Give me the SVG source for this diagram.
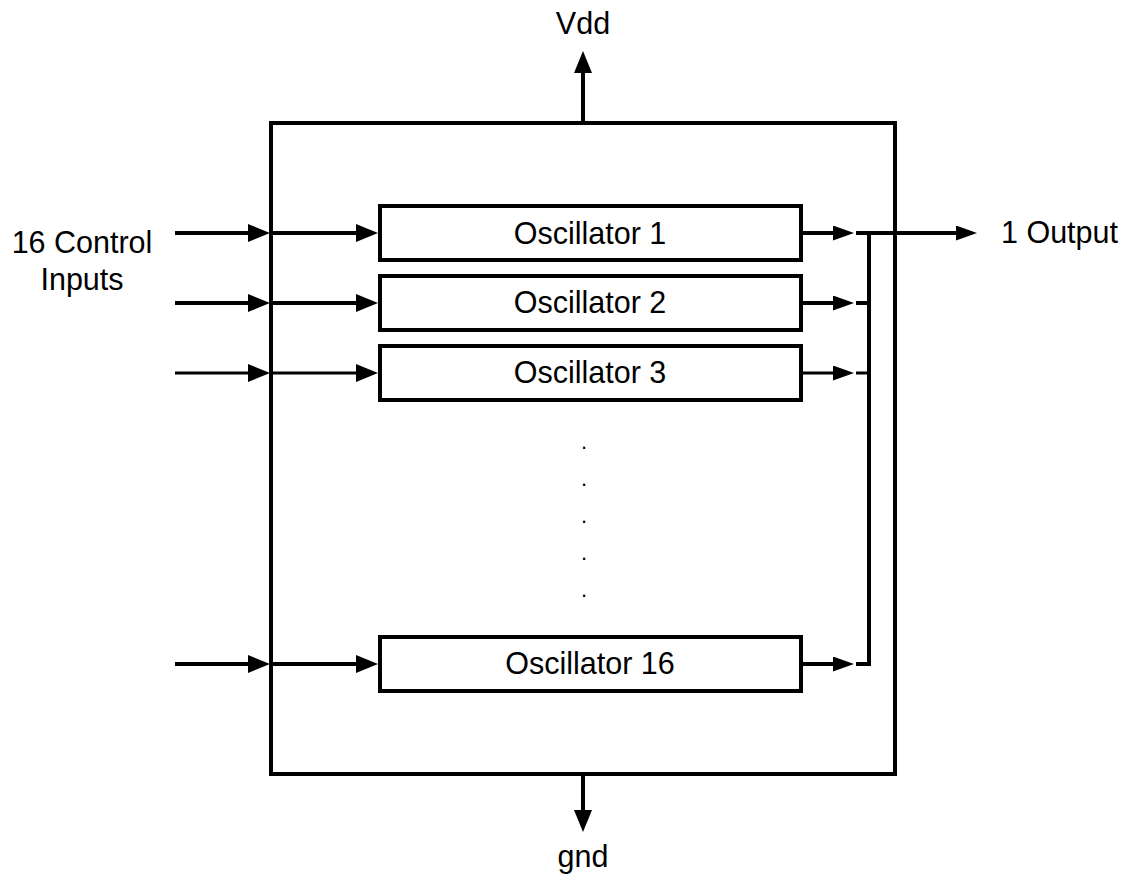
<svg xmlns="http://www.w3.org/2000/svg" width="1132" height="877" viewBox="0 0 1132 877">
  <style>
    .box { fill: #fff; stroke: #000; stroke-width: 4; }
    .wire { fill: none; stroke: #000; stroke-width: 4; }
    .thin { stroke-width: 3; }
    .lbl { font-family: "Liberation Sans", Arial, sans-serif; font-size: 30.5px; fill: #000; }
    .mid { text-anchor: middle; }
  </style>
  <defs>
    <marker id="ah" markerUnits="userSpaceOnUse" markerWidth="22" markerHeight="18" refX="1" refY="9" orient="auto" viewBox="0 0 22 18">
      <path d="M0,0 L22,9 L0,18 Z" fill="#000"/>
    </marker>
    <marker id="ahs" markerUnits="userSpaceOnUse" markerWidth="21" markerHeight="15" refX="1" refY="7.5" orient="auto" viewBox="0 0 21 15">
      <path d="M0,0 L21,7.5 L0,15 Z" fill="#000"/>
    </marker>
  </defs>

  <!-- chip outline -->
  <g id="chip">
    <rect class="box" x="271" y="123" width="624" height="651"/>
  </g>

  <!-- oscillator blocks -->
  <g id="osc1">
    <rect class="box" x="380" y="206" width="421" height="54"/>
    <text class="lbl mid" x="590" y="244">Oscillator 1</text>
  </g>
  <g id="osc2">
    <rect class="box" x="380" y="276" width="421" height="54"/>
    <text class="lbl mid" x="590" y="313">Oscillator 2</text>
  </g>
  <g id="osc3">
    <rect class="box" x="380" y="346" width="421" height="54"/>
    <text class="lbl mid" x="590" y="383">Oscillator 3</text>
  </g>
  <g id="osc16">
    <rect class="box" x="380" y="637" width="421" height="54"/>
    <text class="lbl mid" x="590" y="674">Oscillator 16</text>
  </g>

  <!-- ellipsis between blocks -->
  <g id="ellipsis" class="lbl mid" style="font-size:22px">
    <text x="584" y="449">.</text>
    <text x="584" y="486">.</text>
    <text x="584" y="523">.</text>
    <text x="584" y="560">.</text>
    <text x="584" y="597">.</text>
  </g>

  <!-- labels -->
  <g id="labels">
    <text class="lbl mid" x="583" y="34">Vdd</text>
    <text class="lbl mid" x="583" y="867">gnd</text>
    <text class="lbl mid" x="82" y="253">16 Control</text>
    <text class="lbl mid" x="82" y="290">Inputs</text>
    <text class="lbl" x="1001" y="243">1 Output</text>
  </g>

  <!-- connectors -->
  <g id="connectors">
    <!-- supply -->
    <path class="wire" d="M583,123 V72" marker-end="url(#ah)"/>
    <path class="wire" d="M583,774 V811" marker-end="url(#ah)"/>

    <!-- control inputs -->
    <path class="wire" d="M175,233 H249" marker-end="url(#ah)"/>
    <path class="wire" d="M271,233 H357" marker-end="url(#ah)"/>
    <path class="wire" d="M175,303 H249" marker-end="url(#ah)"/>
    <path class="wire" d="M271,303 H357" marker-end="url(#ah)"/>
    <path class="wire thin" d="M175,373 H249" marker-end="url(#ah)"/>
    <path class="wire thin" d="M271,373 H357" marker-end="url(#ah)"/>
    <path class="wire" d="M175,664 H249" marker-end="url(#ah)"/>
    <path class="wire" d="M271,664 H357" marker-end="url(#ah)"/>

    <!-- oscillator outputs -->
    <path class="wire" d="M801,233 H834" marker-end="url(#ahs)"/>
    <path class="wire" d="M801,303 H834" marker-end="url(#ahs)"/>
    <path class="wire thin" d="M801,373 H834" marker-end="url(#ahs)"/>
    <path class="wire" d="M801,664 H834" marker-end="url(#ahs)"/>

    <!-- combining bus -->
    <path class="wire" d="M856,664 H869 V233"/>
    <path class="wire" d="M856,303 H869"/>
    <path class="wire thin" d="M856,373 H869"/>
    <path class="wire" d="M856,233 H957" marker-end="url(#ahs)"/>
  </g>
</svg>
